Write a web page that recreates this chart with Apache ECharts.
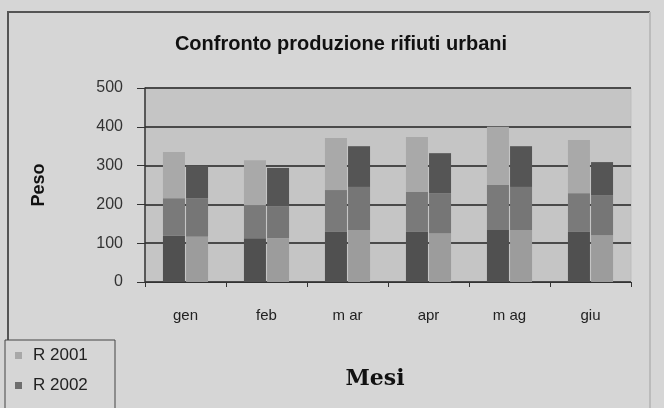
<!DOCTYPE html>
<html>
<head>
<meta charset="utf-8">
<script src="https://cdn.jsdelivr.net/npm/echarts@6/dist/echarts.min.js"></script>
<style>
  html, body { margin: 0; padding: 0; background: #fff; }
  #chart { width: 664px; height: 408px; }
</style>
</head>
<body>
<div id="chart"></div>
<script>
const months = ['gen', 'feb', 'm ar', 'apr', 'm ag', 'giu']
const yTicks = [0, 100, 200, 300, 400, 500]

// left bar of each month (R 2001), stacked bottom -> top
const r2001Low  = [120, 113, 129, 129, 134, 129]
const r2001Mid  = [96, 85, 108, 103, 116, 100]
const r2001High = [119, 116, 134, 142, 150, 137]

// right bar of each month (R 2002), stacked bottom -> top
const r2002Low  = [117, 113, 134, 126, 134, 121]
const r2002Mid  = [99, 82, 111, 103, 111, 103]
const r2002High = [84, 99, 105, 103, 105, 85]

const legendNames = ['R 2001', 'R 2002']

const chart = echarts.init(document.getElementById('chart'), null, { renderer: 'canvas' })

const bar = (name, stack, data, color) => ({
  type: 'bar', name, stack, data,
  barWidth: 22, barGap: '5%',
  itemStyle: { color },
  emphasis: { disabled: true },
})

chart.setOption({
  animation: false,
  backgroundColor: '#d6d6d6',
  textStyle: { fontFamily: 'Liberation Sans, Arial, sans-serif' },
  title: {
    text: 'Confronto produzione rifiuti urbani',
    left: 336, top: 29, textAlign: 'center',
    textStyle: { fontSize: 20, fontWeight: 'bold', color: '#111' },
  },
  graphic: [
    // outer frame (cropped at bottom)
    { type: 'polyline', shape: { points: [[8, 408], [8, 12], [650, 12]] },
      style: { stroke: '#555', lineWidth: 2, fill: null } },
    { type: 'line', shape: { x1: 650, y1: 12, x2: 650, y2: 408 },
      style: { stroke: '#bbb', lineWidth: 2 } },
    // legend box, runs off the bottom edge
    { type: 'rect', shape: { x: 5, y: 340, width: 110, height: 90 },
      style: { stroke: '#444', lineWidth: 1, fill: '#d6d6d6' }, z: 1 },
  ],
  legend: {
    data: [
      { name: legendNames[0], itemStyle: { color: '#a8a8a8' } },
      { name: legendNames[1], itemStyle: { color: '#6e6e6e' } },
    ],
    orient: 'vertical', left: 15, top: 347, height: 80,
    itemWidth: 7, itemHeight: 7, itemGap: 13,
    icon: 'rect',
    padding: 0,
    z: 5,
    textStyle: { fontSize: 17, color: '#222', padding: [0, 0, 0, 6] },
  },
  grid: {
    left: 145, right: 33, top: 88, bottom: 126,
    show: true, backgroundColor: '#c5c5c5', borderColor: '#bdbdbd', borderWidth: 1,
  },
  xAxis: {
    type: 'category', data: months,
    name: 'Mesi', nameLocation: 'middle', nameGap: 86,
    nameTextStyle: { fontSize: 22, fontWeight: 'bold', color: '#111', fontFamily: 'DejaVu Serif, serif', padding: [0, 26, 0, 0] },
    axisLine: { lineStyle: { color: '#333', width: 1 } },
    axisTick: { show: true, length: 5, lineStyle: { color: '#333' } },
    axisLabel: { fontSize: 15, color: '#222', margin: 26 },
  },
  yAxis: {
    type: 'value', min: yTicks[0], max: yTicks[yTicks.length - 1], interval: 100,
    name: 'Peso', nameLocation: 'middle', nameGap: 97, nameRotate: 90,
    nameTextStyle: { fontSize: 18, fontWeight: 'bold', color: '#111' },
    axisLine: { show: true, lineStyle: { color: '#333', width: 1.5 } },
    axisTick: { show: true, length: 8, lineStyle: { color: '#333' } },
    axisLabel: { fontSize: 16, color: '#333', margin: 22 },
    splitLine: { lineStyle: { color: '#4a4a4a', width: 2 } },
  },
  series: [
    bar('R 2001 basso', 'a', r2001Low, '#505050'),
    bar('R 2001 medio', 'a', r2001Mid, '#7a7a7a'),
    bar('R 2001', 'a', r2001High, '#a9a9a9'),
    bar('R 2002 basso', 'b', r2002Low, '#9c9c9c'),
    bar('R 2002 medio', 'b', r2002Mid, '#767676'),
    bar('R 2002', 'b', r2002High, '#555555'),
  ],
})
</script>
</body>
</html>
